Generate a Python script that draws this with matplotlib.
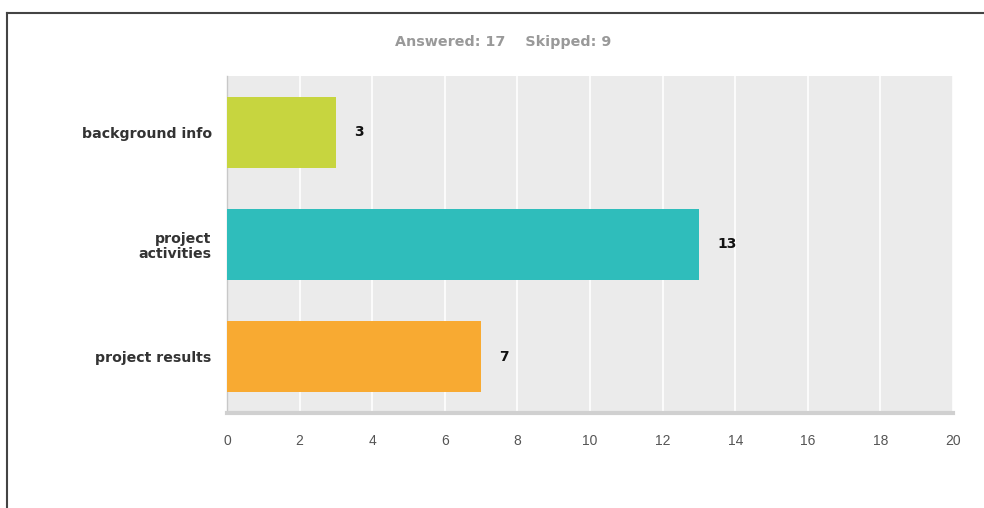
import matplotlib
matplotlib.use('Agg')
import matplotlib.pyplot as plt
from matplotlib.lines import Line2D

# Du lieu khao sat
categories = ['background info', 'project\nactivities', 'project results']
values = [3, 13, 7]
bar_colors = ['#c7d53f', '#2fbdbb', '#f8aa32']
x_ticks = [0, 2, 4, 6, 8, 10, 12, 14, 16, 18, 20]
summary = 'Answered: 17    Skipped: 9'

plt.rcParams['font.family'] = ['Liberation Sans', 'DejaVu Sans']
bold_font = ['DejaVu Sans']

fig = plt.figure(figsize=(9.84, 5.08), dpi=100)
ax = fig.add_axes([227 / 984, 95 / 508, 726 / 984, 337 / 508])
ax.set_facecolor('#ebebeb')

y_pos = list(range(len(categories)))
ax.barh(y_pos, values, height=0.63, color=bar_colors, zorder=3)
for y, v in zip(y_pos, values):
    ax.text(v + 0.5, y, str(v), va='center', ha='left', fontsize=10,
            fontweight='bold', color='#111111', family=bold_font)

ax.set_xlim(0, 20)
ax.set_ylim(len(categories) - 0.5, -0.5)
ax.set_xticks(x_ticks)
ax.set_xticklabels([str(t) for t in x_ticks], fontsize=10, color='#555555')
ax.set_yticks(y_pos)
ax.set_yticklabels(categories, fontsize=10.2, fontweight='bold', color='#333333',
                   linespacing=1.1, family=bold_font)
ax.tick_params(axis='both', length=0)
ax.tick_params(axis='x', pad=15)
ax.tick_params(axis='y', pad=11)
ax.grid(axis='x', color='white', linewidth=1.2, zorder=1)
ax.set_axisbelow(True)

for s in ['top', 'right']:
    ax.spines[s].set_visible(False)
ax.spines['left'].set_color('#c8c8c8')
ax.spines['left'].set_linewidth(1.0)
ax.spines['bottom'].set_color('#d0d0d0')
ax.spines['bottom'].set_linewidth(3)

fig.text(503 / 984, 1 - 42 / 508, summary, ha='center', va='center',
         fontsize=10.3, fontweight='bold', color='#999999', family=bold_font)

# Khung vien ben trai va ben tren
fig.add_artist(Line2D([7 / 984, 7 / 984], [0, 1 - 13 / 508], color='#444444',
                      linewidth=1.5, transform=fig.transFigure))
fig.add_artist(Line2D([7 / 984, 1], [1 - 13 / 508, 1 - 13 / 508], color='#444444',
                      linewidth=1.5, transform=fig.transFigure))

fig.savefig('out.png', dpi=100)
plt.close(fig)
